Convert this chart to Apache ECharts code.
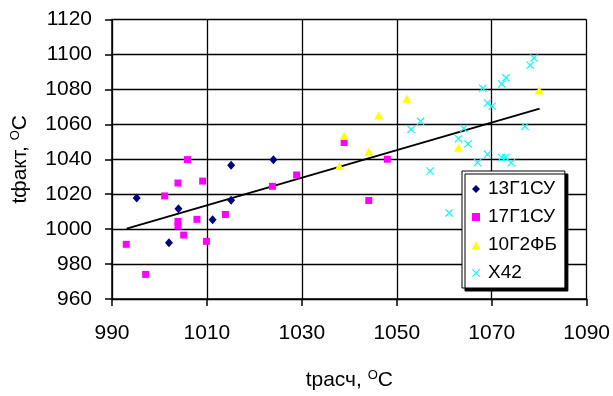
<!DOCTYPE html>
<html>
<head>
<meta charset="utf-8">
<script src="https://cdn.jsdelivr.net/npm/echarts@6/dist/echarts.min.js"></script>
<style>
  html, body { margin: 0; padding: 0; background: #fff; }
  #chart { width: 613px; height: 396px; }
</style>
</head>
<body>
<div id="chart"></div>
<script>
// points: [tрасч, tфакт]
const steel13G1SU = [
  [995.2, 1017.8], [1002, 992.2], [1004, 1011.7], [1011.2, 1005.4],
  [1015.1, 1036.6], [1015.1, 1016.6], [1024, 1039.7]
];
const steel17G1SU = [
  [993, 991.3], [997.1, 974.1], [1001.1, 1019], [1003.9, 1026.4],
  [1003.9, 1004.4], [1003.9, 1001.8], [1005.1, 996.6], [1005.9, 1039.8],
  [1007.9, 1005.6], [1009.1, 1027.5], [1009.9, 993], [1013.9, 1008.4],
  [1023.8, 1024.5], [1028.9, 1031], [1038.9, 1049.6], [1048, 1040],
  [1044.1, 1016.4]
];
const steel10G2FB = [
  [1037.9, 1036.1], [1038.9, 1053.3], [1044.1, 1044.3], [1046.2, 1065],
  [1052.1, 1074.7], [1063, 1046.6], [1080, 1079.3]
];
const steelX42 = [
  [1078.9, 1097.9], [1078.1, 1093.8], [1073, 1086.6], [1072.1, 1083.1],
  [1068.1, 1080.7], [1069.1, 1072.2], [1070.1, 1070.3], [1055, 1061.7],
  [1053, 1057.1], [1077, 1058.8], [1064.1, 1057.6], [1063, 1051.8],
  [1065, 1048.8], [1069.1, 1042.8], [1067, 1038.1], [1072.1, 1041],
  [1072.9, 1041], [1074.1, 1038], [1057, 1033.3], [1061, 1009.3]
];
// trend line ends
const trendX = [993.1, 1080.1];
const trendY = [1000.3, 1069];

const seriesNames = ["13Г1СУ", "17Г1СУ", "10Г2ФБ", "X42"];

// filled cross, excel style "x" marker
const crossPath = "path://M0,1L1,0L5,4L9,0L10,1L6,5L10,9L9,10L5,6L1,10L0,9L4,5Z";

const chart = echarts.init(document.getElementById("chart"), null, { renderer: "canvas" });

const font = "'Liberation Sans', Arial, sans-serif";
const axisName = (txt) => ({
  name: txt + ", {sup|O}C",
  nameLocation: "middle",
  nameTextStyle: {
    fontFamily: font, fontSize: 21, color: "#000",
    rich: {
      sup: { fontFamily: font, fontSize: 13, color: "#000", padding: [0, 0, 10, 0] }
    }
  }
});

chart.setOption({
  animation: false,
  backgroundColor: "#fff",
  textStyle: { fontFamily: font },
  grid: { left: 112, right: 25, top: 19.5, bottom: 92 },
  legend: {
    data: seriesNames,
    orient: "vertical",
    left: 462,
    top: 171,
    padding: [8, 8, 5, 10],
    itemWidth: 8,
    itemHeight: 8,
    itemGap: 8,
    backgroundColor: "#fff",
    borderColor: "#000",
    borderWidth: 1,
    shadowColor: "#000",
    shadowOffsetX: 3,
    shadowOffsetY: 3,
    shadowBlur: 0,
    textStyle: { fontFamily: font, fontSize: 19, color: "#000", lineHeight: 20, padding: [0, 0, 0, 3] }
  },
  xAxis: {
    type: "value",
    min: 990, max: 1090, interval: 20,
    ...axisName("tрасч"),
    nameGap: 70,
    axisLine: { show: true, onZero: false, lineStyle: { color: "#000", width: 1.5 } },
    axisTick: { show: true, length: 7, lineStyle: { color: "#000", width: 1.5 } },
    axisLabel: { fontSize: 21, color: "#000", margin: 24, fontFamily: font, formatter: (v) => String(v) },
    splitLine: { show: true, lineStyle: { color: "#000", width: 1.3 } }
  },
  yAxis: {
    type: "value",
    min: 960, max: 1120, interval: 20,
    ...axisName("tфакт"),
    nameGap: 80,
    axisLine: { show: true, onZero: false, lineStyle: { color: "#000", width: 1.5 } },
    axisTick: { show: true, length: 7, lineStyle: { color: "#000", width: 1.5 } },
    axisLabel: { fontSize: 21, color: "#000", margin: 20, fontFamily: font, formatter: (v) => String(v) },
    splitLine: { show: true, lineStyle: { color: "#000", width: 1.3 } }
  },
  series: [
    {
      name: "trend",
      type: "line",
      data: trendX.map((x, i) => [x, trendY[i]]),
      symbol: "none",
      lineStyle: { color: "#000", width: 2 },
      z: 1
    },
    {
      name: seriesNames[0],
      type: "scatter",
      data: steel13G1SU,
      symbol: "diamond",
      symbolSize: [8, 9],
      itemStyle: { color: "#000080", opacity: 1 },
      z: 3
    },
    {
      name: seriesNames[1],
      type: "scatter",
      data: steel17G1SU,
      symbol: "rect",
      symbolSize: 7,
      itemStyle: { color: "#ff00ff", opacity: 1 },
      z: 3
    },
    {
      name: seriesNames[2],
      type: "scatter",
      data: steel10G2FB,
      symbol: "triangle",
      symbolSize: [9, 8],
      itemStyle: { color: "#ffff00", opacity: 1 },
      z: 4
    },
    {
      name: seriesNames[3],
      type: "scatter",
      data: steelX42,
      symbol: crossPath,
      symbolSize: 8,
      itemStyle: { color: "#00ffff", opacity: 1 },
      z: 3
    }
  ]
});
</script>
</body>
</html>
